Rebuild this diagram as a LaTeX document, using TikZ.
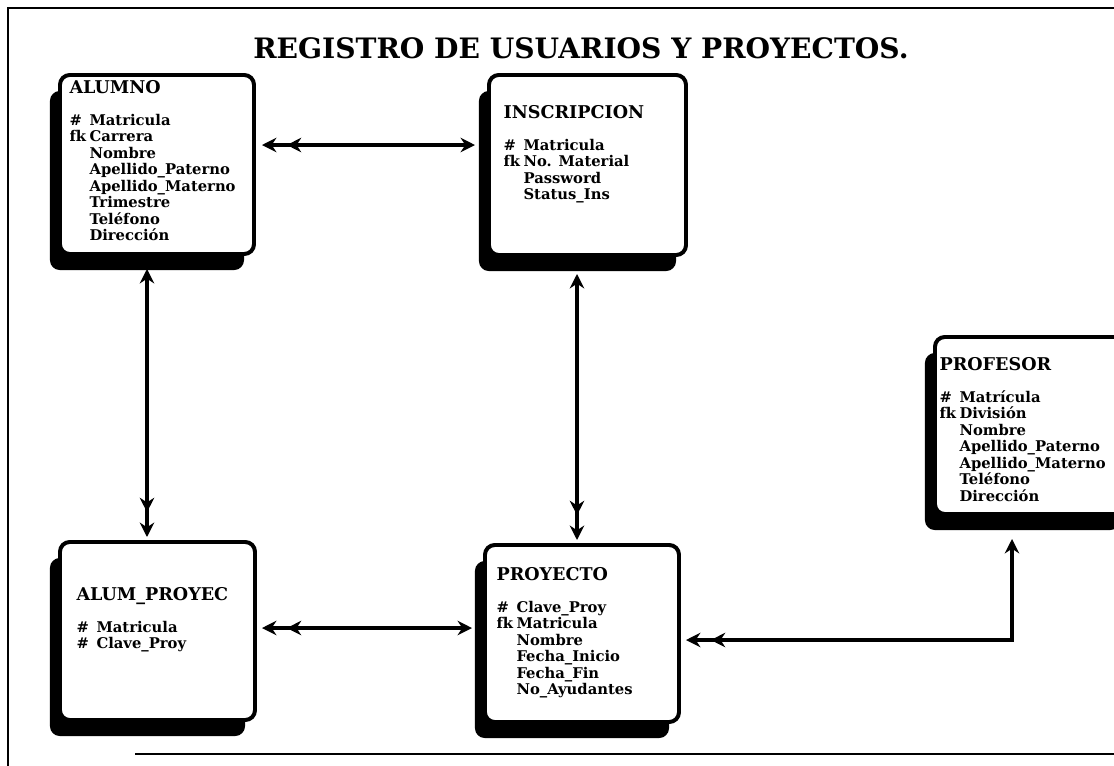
\documentclass[tikz,border=0pt]{standalone}
\usepackage{fontspec}
\setmainfont{DejaVu Serif}
\usetikzlibrary{arrows.meta, calc, shadows}
\newcommand{\llave}[1]{\makebox[0.5cm][l]{\#}#1}
\newcommand{\foranea}[1]{\makebox[0.5cm][l]{fk}#1}
\newcommand{\campo}[1]{\hspace*{0.5cm}#1}
\newcommand{\enttit}{\fontsize{12.5}{14}\selectfont}
\tikzset{
  every picture/.style={line width=2.2pt},
  uno/.tip={Stealth[length=3.6mm, width=3.6mm]},
  muchos/.tip={Stealth[length=3.6mm, width=3.6mm, sep=2.6mm]Stealth[length=3.6mm, width=3.6mm]},
  entidad/.style={draw, fill=white, rounded corners=7pt, line width=2.8pt, anchor=north west, inner sep=0pt,
    general shadow={fill=black, shadow xshift=-0.25cm, shadow yshift=-0.4cm}},
  campos/.style={anchor=north west, inner sep=0pt, align=left, font=\bfseries\fontsize{10.5}{11.7}\selectfont},
  titulo/.style={font=\bfseries\fontsize{20}{24}\selectfont},
  rel/.style={line width=2.4pt},
  marco/.style={line width=1.6pt},
}

\begin{document}
\begin{tikzpicture}[x=0.025cm, y=-0.025cm]
  \useasboundingbox (0,0) rectangle (1114,765);
  \clip (0,0) rectangle (1114,765);
  \fill[white] (0,0) rectangle (1114,765);
  % marco
  \draw[marco] (1120,8) -- (8,8) -- (8,770);
  \draw[marco] (135,754) -- (1120,754);
  \node[titulo] (titulo) at (581,48) {REGISTRO DE USUARIOS Y PROYECTOS.};
  % entidades
  \node[entidad, minimum width=4.85cm, minimum height=4.475cm] (alumno) at (58,73) {};
  \node[entidad, minimum width=4.925cm, minimum height=4.5cm] (inscripcion) at (487,73) {};
  \node[entidad, minimum width=4.875cm, minimum height=4.425cm] (profesor) at (933,335) {};
  \node[entidad, minimum width=4.875cm, minimum height=4.45cm] (alumproyec) at (58,540) {};
  \node[entidad, minimum width=4.85cm, minimum height=4.425cm] (proyecto) at (483,543) {};
  % atributos
  \node[campos] (alumnotxt) at (68,79) {{\enttit ALUMNO}\\[11pt]
    \llave{Matricula}\\ \foranea{Carrera}\\ \campo{Nombre}\\ \campo{Apellido\_Paterno}\\
    \campo{Apellido\_Materno}\\ \campo{Trimestre}\\ \campo{Teléfono}\\ \campo{Dirección}};
  \node[campos] (inscripciontxt) at (502,104) {{\enttit INSCRIPCION}\\[11pt]
    \llave{Matricula}\\ \foranea{No. Material}\\ \campo{Password}\\ \campo{Status\_Ins}};
  \node[campos] (profesortxt) at (938,356) {{\enttit PROFESOR}\\[11pt]
    \llave{Matrícula}\\ \foranea{División}\\ \campo{Nombre}\\ \campo{Apellido\_Paterno}\\
    \campo{Apellido\_Materno}\\ \campo{Teléfono}\\ \campo{Dirección}};
  \node[campos] (alumproyectxt) at (75,586) {{\enttit ALUM\_PROYEC}\\[11pt]
    \llave{Matricula}\\ \llave{Clave\_Proy}};
  \node[campos] (proyectotxt) at (495,566) {{\enttit PROYECTO}\\[11pt]
    \llave{Clave\_Proy}\\ \foranea{Matricula}\\ \campo{Nombre}\\ \campo{Fecha\_Inicio}\\
    \campo{Fecha\_Fin}\\ \campo{No\_Ayudantes}};
  % relaciones
  \draw[rel, {muchos}-{uno}] ($(alumno.north east)+(6,72)$) -- ($(inscripcion.north west)+(-12,72)$);
  \draw[rel, {uno}-{muchos}] ($(alumno.south west)+(89,13)$) -- ($(alumproyec.north west)+(89,-3)$);
  \draw[rel, {uno}-{muchos}] ($(inscripcion.south west)+(90,17)$) -- ($(proyecto.north west)+(94,-3)$);
  \draw[rel, {muchos}-{uno}] ($(alumproyec.north east)+(5,88)$) -- ($(proyecto.north west)+(-11,85)$);
  \draw[rel, {muchos}-{uno}] ($(proyecto.north east)+(5,97)$) -| ($(profesor.south west)+(79,23)$);
\end{tikzpicture}
\end{document}
